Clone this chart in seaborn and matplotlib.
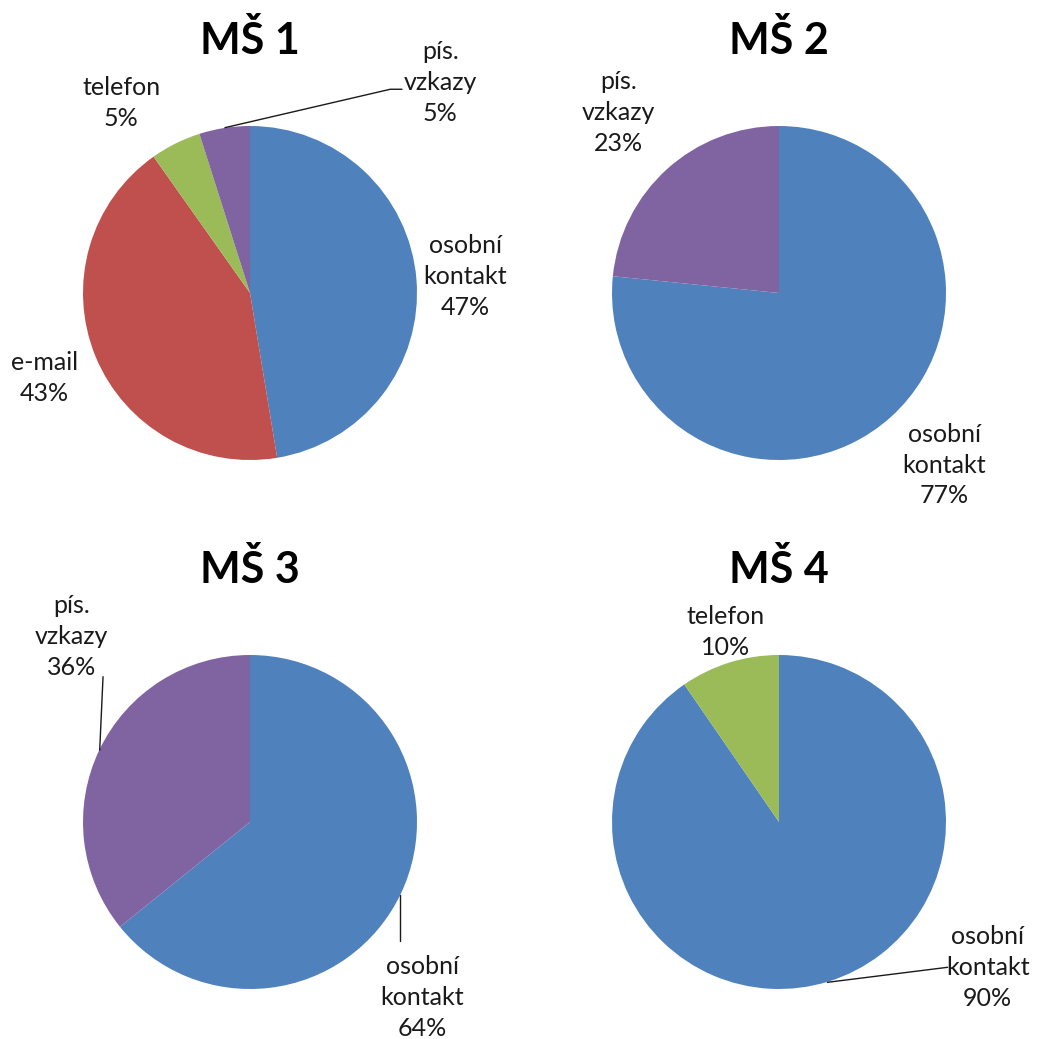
import numpy as np
import matplotlib
matplotlib.use("Agg")
import matplotlib.pyplot as plt
import seaborn as sns

# Data (shares in %, order = clockwise from top)
categories = ["osobní kontakt", "e-mail", "telefon", "pís. vzkazy"]
colors = ["#4F81BD", "#C0504D", "#9BBB59", "#8064A2"]

titles = ["MŠ 1", "MŠ 2", "MŠ 3", "MŠ 4"]
ms1 = [47.4, 42.8, 4.9, 4.9]
ms2 = [76.6, 0, 0, 23.4]
ms3 = [64.2, 0, 0, 35.8]
ms4 = [90.4, 0, 9.6, 0]
shares = [ms1, ms2, ms3, ms4]

sns.set_theme(style="white")
plt.rcParams['font.family'] = ['Lato', 'DejaVu Sans']

W, H = 1041, 1039
R = 167  # pie radius in px
LIM = 1.05
centers = [(250, 293), (779, 293), (250, 822), (779, 822)]

# label positions (in pie radius units, relative to pie centre)
label_pos = [
    {0: (1.29, 0.10), 1: (-1.23, -0.51), 2: (-0.77, 1.14), 3: (1.14, 1.26)},
    {0: (0.99, -1.03), 3: (-0.96, 1.08)},
    {0: (1.03, -1.05), 3: (-1.07, 1.11)},
    {0: (1.25, -0.87), 2: (-0.32, 1.14)},
]
# leader lines
leaders = [
    [[(-0.15, 0.99), (0.84, 1.22), (0.91, 1.22)]],
    [],
    [[(0.90, -0.44), (0.90, -0.71)], [(-0.88, 0.87), (-0.90, 0.43)]],
    [[(0.29, -0.96), (1.01, -0.87)]],
]

fig = plt.figure(figsize=(W / 100, H / 100), dpi=100)

for i, vals in enumerate(shares):
    cx, cy = centers[i]
    half = R * LIM
    ax = fig.add_axes([(cx - half) / W, (H - cy - half) / H, 2 * half / W, 2 * half / H])
    ax.pie(vals, colors=colors, startangle=90, counterclock=False, radius=1,
           wedgeprops=dict(linewidth=0))
    ax.set_xlim(-LIM, LIM)
    ax.set_ylim(-LIM, LIM)
    ax.set_aspect('equal')
    ax.axis('off')

    ax.text(0, 1.43, titles[i], ha='center', va='baseline', fontsize=31,
            fontweight='bold', color='black')

    for k, (x, y) in label_pos[i].items():
        txt = categories[k].replace(" ", "\n") + "\n" + f"{vals[k]:.0f}%"
        ax.text(x, y, txt, ha='center', va='center', fontsize=18,
                linespacing=1.42, color='#1a1a1a')

    for line in leaders[i]:
        xs, ys = zip(*line)
        ax.plot(xs, ys, color='#1a1a1a', lw=1, clip_on=False)

fig.savefig("out.png", dpi=100, facecolor='white')
